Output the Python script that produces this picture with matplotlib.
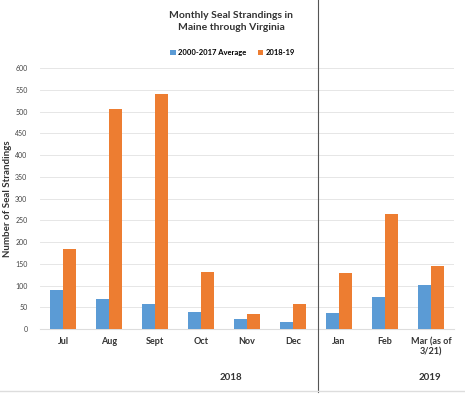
import matplotlib
matplotlib.use("Agg")
import matplotlib.pyplot as plt
import numpy             as np

plt.rcParams["font.family"] = ["Lato", "DejaVu Sans"]

months   = ["Jul", "Aug", "Sept", "Oct", "Nov", "Dec", "Jan", "Feb", "Mar (as of\n3/21)"]
average  = [90, 70, 58, 40, 23, 16, 37, 74, 101]
recent   = [183, 505, 540, 130, 35, 57, 129, 264, 146]
seriesNames = ["2000-2017 Average", "2018-19"]
yTicks   = list(range(0, 601, 50))

blue   = "#5B9BD5"
orange = "#ED7D31"

fig = plt.figure(figsize=(4.65, 3.94), dpi=100)
ax  = fig.add_axes([0.086, 0.165, 0.89, 0.662])

x     = np.arange(len(months))
width = 0.29
ax.bar(x - width / 2, average, width, color=blue,   label=seriesNames[0], zorder=3)
ax.bar(x + width / 2, recent,  width, color=orange, label=seriesNames[1], zorder=3)

ax.set_xlim(-0.5, len(months) - 0.5)
ax.set_ylim(0, 600)
ax.set_yticks(yTicks)
ax.tick_params(axis="y", labelsize=5, colors="#444444", length=0, pad=9)
ax.tick_params(axis="x", length=0, pad=6)
ax.set_xticks(x)
ax.set_xticklabels(months, fontsize=6.5, fontweight="bold", color="#333333")
ax.grid(axis="y", color="#e6e6e6", linewidth=0.7, zorder=0)
for side in ["top", "right", "left"]:
    ax.spines[side].set_visible(False)
ax.spines["bottom"].set_color("#dddddd")

ax.set_ylabel("Number of Seal Strandings", fontsize=7, fontweight="bold", color="#333333")
ax.yaxis.set_label_coords(-0.068, 0.5)

fig.text(0.497, 0.945, "Monthly Seal Strandings in\nMaine through Virginia", ha="center", va="center",
         fontsize=7.5, fontweight="bold", color="#333333", linespacing=1.5)
ax.legend(loc="upper center", bbox_to_anchor=(0.465, 1.10), ncol=2, frameon=False,
          handlelength=0.7, handleheight=0.7, columnspacing=1.5,
          handletextpad=0.3, prop={"weight": "bold", "size": 5.5})

fig.text(231 / 465, 1 - 378 / 394, "2018", ha="center", va="center", fontsize=7, fontweight="bold", color="#333333")
fig.text(430 / 465, 1 - 378 / 394, "2019", ha="center", va="center", fontsize=7, fontweight="bold", color="#333333")

# separator between the two years
fig.add_artist(plt.Line2D([318 / 465, 318 / 465], [0.005, 1.0], color="#555555", linewidth=0.8))
fig.add_artist(plt.Line2D([0, 1], [0.008, 0.008], color="#dddddd", linewidth=1.0))

fig.savefig("out.png", dpi=100)
